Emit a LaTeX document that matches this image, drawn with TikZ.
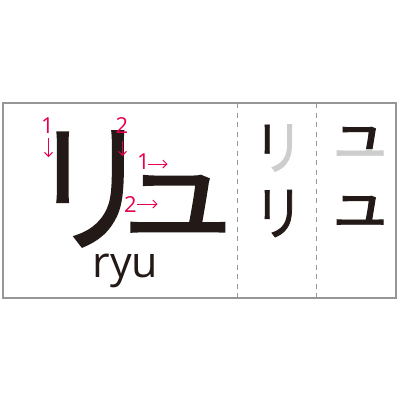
\documentclass[tikz,border=0pt]{standalone}
\usepackage{fontspec}
\setmainfont{Open Sans}
\newfontfamily\jp[RawFeature={embolden=1.5}]{Noto Sans CJK JP}
\usetikzlibrary{arrows.meta}
\definecolor{mark}{RGB}{230,0,80}
\definecolor{framegray}{RGB}{150,150,150}
\definecolor{ghost}{RGB}{205,205,205}
\definecolor{inkc}{RGB}{35,25,22}
\tikzset{
  kana/.style={inner sep=0pt, text=inkc, font=\jp\fontsize{#1}{#1}\selectfont},
  num/.style={inner sep=0pt, anchor=base, text=mark, font=\fontsize{22}{22}\selectfont},
  marrow/.style={draw=mark, line width=1pt, -{Straight Barb[length=4pt,width=8pt]}},
  divider/.style={draw=framegray, line width=1.3pt, dash pattern=on 5pt off 4.5pt}
}
\newcommand{\ri}{\scalebox{0.85}[1.03]{リ}}
\newcommand{\yu}{\scalebox{0.94}[0.81]{ュ}}
\newcommand{\yus}{\scalebox{0.87}[0.76]{ュ}}
\begin{document}
\begin{tikzpicture}[x=1pt,y=-1pt]
\useasboundingbox (0,0) rectangle (400,400);
\fill[white] (0,0) rectangle (400,400);
\draw[framegray, line width=2pt] (3,103) rectangle (396,298);
\draw[divider] (237.5,103) -- (237.5,298);
\draw[divider] (316.5,103) -- (316.5,298);
% big kana
\node[kana=140] (bigri) at (90.5,189) {\ri};
\node[kana=140] (bigyu) at (177.6,204.2) {\yu};
\node[inner sep=0pt, anchor=base, text=inkc, font=\fontsize{43}{43}\selectfont] (romaji) at (125.5,277) {ryu};
% stroke numbers
\node[num] (n1) at (47.5,133) {1};
\node[num] (n2) at (122,133) {2};
\node[num] (n3) at (143.5,169.5) {1};
\node[num] (n4) at (130.5,212) {2};
\coordinate (a1s) at (48.5,138); \coordinate (a1e) at (48.5,157);
\coordinate (a2s) at (122.5,141); \coordinate (a2e) at (122.5,156);
\coordinate (a3s) at (148,164); \coordinate (a3e) at (167.5,164);
\coordinate (a4s) at (137,204); \coordinate (a4e) at (157.5,204);
\draw[marrow] (a1s) -- (a1e);
\draw[marrow] (a2s) -- (a2e);
\draw[marrow] (a3s) -- (a3e);
\draw[marrow] (a4s) -- (a4e);
% middle column
\node[kana=57, text=ghost] (ri1g) at (278.5,148) {\ri};
\begin{scope}
\clip (240,110) rectangle (271,180);
\node[kana=57] (ri1) at (278.5,148) {\ri};
\end{scope}
\node[kana=57] (ri2) at (278.5,213.5) {\ri};
% right column
\node[kana=75, text=ghost] (yu1g) at (360,141.5) {\yus};
\begin{scope}
\clip (320,110) rectangle (395,148);
\node[kana=75] (yu1) at (360,141.5) {\yus};
\end{scope}
\node[kana=75] (yu2) at (360,210.5) {\yus};
\end{tikzpicture}
\end{document}
